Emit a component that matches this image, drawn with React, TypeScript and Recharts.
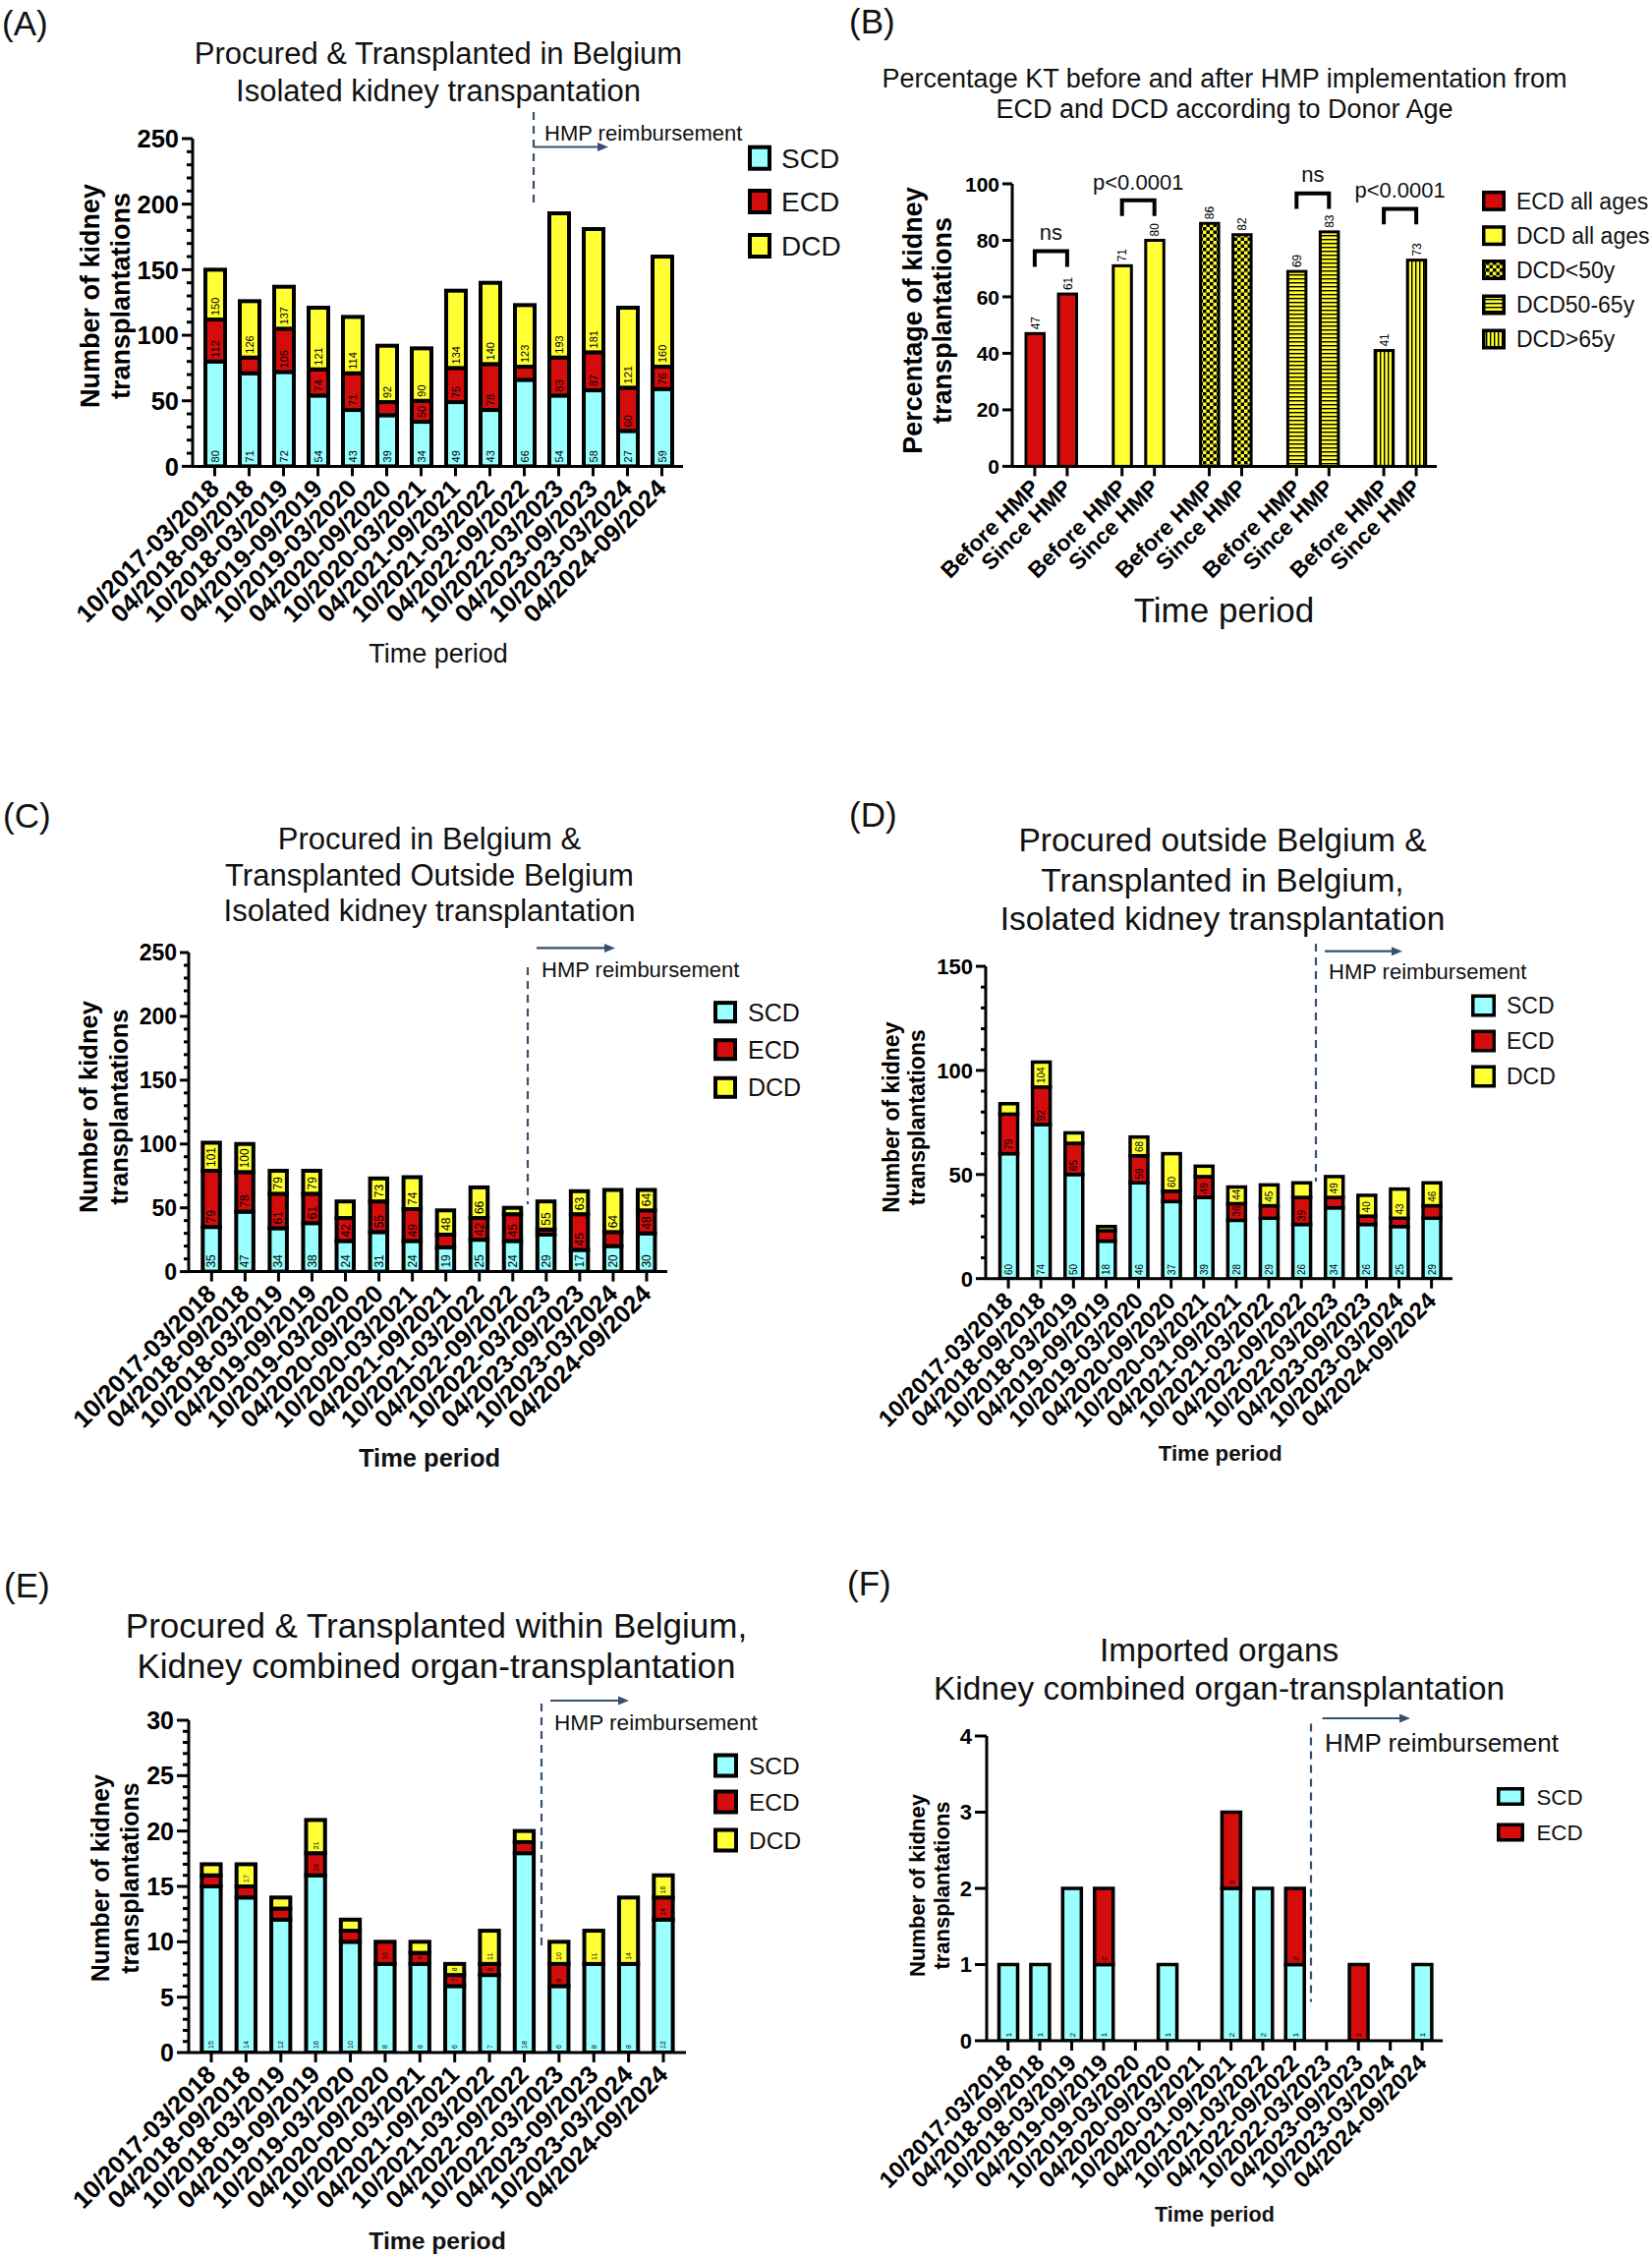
import React from "react";
import { Bar, BarChart, XAxis, YAxis } from "recharts";

const FONT = "'Liberation Sans', Arial, Helvetica, sans-serif";
const CYAN = "#99FFFF";
const RED = "#D50C0C";
const YELLOW = "#FFFF33";
const NAVY = "#36516F";

const PERIODS = [
  "10/2017-03/2018", "04/2018-09/2018", "10/2018-03/2019", "04/2019-09/2019",
  "10/2019-03/2020", "04/2020-09/2020", "10/2020-03/2021", "04/2021-09/2021",
  "10/2021-03/2022", "04/2022-09/2022", "10/2022-03/2023", "04/2023-09/2023",
  "10/2023-03/2024", "04/2024-09/2024",
];

// (A) procured & transplanted in Belgium, isolated KT
const A_SCD = [80, 71, 72, 54, 43, 39, 34, 49, 43, 66, 54, 58, 27, 59];
const A_ECD = [32, 12, 33, 20, 28, 10, 16, 26, 35, 10, 29, 29, 33, 17];
const A_DCD = [38, 43, 32, 47, 43, 43, 40, 59, 62, 47, 110, 94, 61, 84];
const A_YTICKS = [0, 50, 100, 150, 200, 250];

// (B) percentage KT before / since HMP
const B_GROUPS = ["ECD all ages", "DCD all ages", "DCD<50y", "DCD50-65y", "DCD>65y"];
const B_BEFORE = [47, 71, 86, 69, 41];
const B_SINCE = [61, 80, 82, 83, 73];
const B_SIG = ["ns", "p<0.0001", "", "ns", "p<0.0001"];
const B_BRACKET = [76, 94, 0, 96.5, 91];
const B_TICK_LABELS = ["Before HMP", "Since HMP"];
const B_YTICKS = [0, 20, 40, 60, 80, 100];

// (C) procured in Belgium, transplanted outside
const C_SCD = [35, 47, 34, 38, 24, 31, 24, 19, 25, 24, 29, 17, 20, 30];
const C_ECD = [44, 31, 27, 23, 18, 24, 25, 10, 17, 21, 4, 28, 11, 18];
const C_DCD = [22, 22, 18, 18, 13, 18, 25, 19, 24, 5, 22, 18, 33, 16];
const C_YTICKS = [0, 50, 100, 150, 200, 250];

// (D) procured outside, transplanted in Belgium
const D_SCD = [60, 74, 50, 18, 46, 37, 39, 28, 29, 26, 34, 26, 25, 29];
const D_ECD = [19, 18, 15, 5, 13, 5, 10, 8, 6, 13, 5, 4, 4, 6];
const D_DCD = [5, 12, 5, 2, 9, 18, 5, 8, 10, 7, 10, 10, 14, 11];
const D_YTICKS = [0, 50, 100, 150];

// (E) combined organ KT within Belgium
const E_SCD = [15, 14, 12, 16, 10, 8, 8, 6, 7, 18, 6, 8, 8, 12];
const E_ECD = [1, 1, 1, 2, 1, 2, 1, 1, 1, 1, 2, 0, 0, 2];
const E_DCD = [1, 2, 1, 3, 1, 0, 1, 1, 3, 1, 2, 3, 6, 2];
const E_YTICKS = [0, 5, 10, 15, 20, 25, 30];

// (F) imported organs, combined KT
const F_SCD = [1, 1, 2, 1, 0, 1, 0, 2, 2, 1, 0, 0, 0, 1];
const F_ECD = [0, 0, 0, 1, 0, 0, 0, 1, 0, 1, 0, 1, 0, 0];
const F_YTICKS = [0, 1, 2, 3, 4];

type Series = { key: string; name: string; color: string; values: number[] };
type Geo = { l: number; r: number; t: number; b: number; padL: number; padR: number };

const MT = 40;
const XH = 240;
const YW = 170;
const MR = 12;

function chartBox(g: Geo) {
  return { left: g.l - YW, top: g.t - MT, width: g.r - g.l + YW + MR, height: g.b - g.t + MT + XH };
}

function yTick(majors: number[], fs: number, majorLen: number, minorLen: number) {
  return (p: any) => {
    const v = p.payload.value;
    const isMajor = majors.includes(v);
    const len = isMajor ? majorLen : minorLen;
    return (
      <g>
        <line x1={YW - len} x2={YW} y1={p.y} y2={p.y} stroke="#000" strokeWidth={3} />
        {isMajor && (
          <text x={YW - len - 3} y={p.y + 0.36 * fs} textAnchor="end" fontSize={fs} fontWeight="bold" fontFamily={FONT} fill="#000">
            {v}
          </text>
        )}
      </g>
    );
  };
}

function rotLabel(tx: number, ty: number, fs: number, text: string, key?: string) {
  return (
    <text key={key} x={tx} y={ty} transform={`rotate(-45 ${tx} ${ty})`} textAnchor="end" fontSize={fs} fontWeight="bold" fontFamily={FONT} fill="#000">
      {text}
    </text>
  );
}

function xTick(axisY: number, fs: number) {
  return (p: any) => (
    <g>
      <line x1={p.x} x2={p.x} y1={axisY} y2={axisY + 10} stroke="#000" strokeWidth={3} />
      {rotLabel(p.x + 6, axisY + 24, fs, p.payload.value)}
    </g>
  );
}

function segShape(series: Series[], k: number, sw: number, fs: number, pad: number) {
  return (p: any) => {
    const { x, y, width, height, payload } = p;
    if (!height || height <= 0) return <g />;
    const cum = series.slice(0, k + 1).reduce((a, s) => a + payload[s.key], 0);
    const txt = String(cum);
    const show = height >= txt.length * 0.556 * fs + pad;
    const cx = x + width / 2 + 0.36 * fs;
    const by = y + height - sw / 2 - 2;
    return (
      <g>
        <rect x={x} y={y} width={width} height={height} fill={series[k].color} stroke="#000" strokeWidth={sw} />
        {show && (
          <text x={cx} y={by} transform={`rotate(-90 ${cx} ${by})`} fontSize={fs} fontFamily={FONT} fill="#000">
            {txt}
          </text>
        )}
      </g>
    );
  };
}

type StackCfg = {
  geo: Geo; series: Series[]; yMax: number; majors: number[]; minorStep: number;
  barSize: number; sw: number; labelFs: number; labelPad: number;
  yFs: number; xFs: number; majorLen: number; minorLen: number;
};

function StackPanel({ cfg }: { cfg: StackCfg }) {
  const g = cfg.geo;
  const box = chartBox(g);
  const axisY = MT + (g.b - g.t);
  const data = PERIODS.map((period, i) => {
    const row: any = { period };
    cfg.series.forEach((s) => (row[s.key] = s.values[i]));
    return row;
  });
  const ticks: number[] = [];
  for (let v = 0; v <= cfg.yMax + 1e-9; v += cfg.minorStep) ticks.push(Math.round(v * 100) / 100);
  return (
    <div style={{ position: "absolute", left: box.left, top: box.top, zIndex: 1 }}>
      <BarChart width={box.width} height={box.height} data={data} margin={{ top: MT, right: MR, bottom: 0, left: 0 }}>
        <XAxis dataKey="period" height={XH} interval={0} tickLine={false}
          axisLine={{ stroke: "#000", strokeWidth: 3 }} padding={{ left: g.padL, right: g.padR }}
          tick={xTick(axisY, cfg.xFs)} />
        <YAxis width={YW} domain={[0, cfg.yMax]} ticks={ticks} interval={0} tickLine={false} allowDataOverflow
          axisLine={{ stroke: "#000", strokeWidth: 3 }} tick={yTick(cfg.majors, cfg.yFs, cfg.majorLen, cfg.minorLen)} />
        {cfg.series.map((s, k) => (
          <Bar key={s.key} dataKey={s.key} name={s.name} stackId="a" barSize={cfg.barSize} isAnimationActive={false}
            shape={segShape(cfg.series, k, cfg.sw, cfg.labelFs, cfg.labelPad)} />
        ))}
      </BarChart>
    </div>
  );
}

const SER = (scd: number[], ecd: number[], dcd?: number[]): Series[] => {
  const out: Series[] = [
    { key: "scd", name: "SCD", color: CYAN, values: scd },
    { key: "ecd", name: "ECD", color: RED, values: ecd },
  ];
  if (dcd) out.push({ key: "dcd", name: "DCD", color: YELLOW, values: dcd });
  return out;
};

const CFG_A: StackCfg = {
  geo: { l: 196, r: 695, t: 140.6, b: 474, padL: 5, padR: 4 }, series: SER(A_SCD, A_ECD, A_DCD),
  yMax: 250, majors: A_YTICKS, minorStep: 10, barSize: 20, sw: 4, labelFs: 11, labelPad: 6,
  yFs: 25.5, xFs: 25.5, majorLen: 11, minorLen: 6,
};
const CFG_C: StackCfg = {
  geo: { l: 192, r: 679, t: 969, b: 1293.6, padL: 6.3, padR: 4 }, series: SER(C_SCD, C_ECD, C_DCD),
  yMax: 250, majors: C_YTICKS, minorStep: 10, barSize: 17.5, sw: 4, labelFs: 12, labelPad: 5,
  yFs: 23, xFs: 25.5, majorLen: 9, minorLen: 5,
};
const CFG_D: StackCfg = {
  geo: { l: 1003, r: 1478, t: 983.3, b: 1301, padL: 6.5, padR: 4.8 }, series: SER(D_SCD, D_ECD, D_DCD),
  yMax: 150, majors: D_YTICKS, minorStep: 10, barSize: 18, sw: 3.5, labelFs: 10, labelPad: 4,
  yFs: 22, xFs: 24, majorLen: 10, minorLen: 5,
};
const CFG_E: StackCfg = {
  geo: { l: 192, r: 698, t: 1750, b: 2088, padL: 5.3, padR: 5.3 }, series: SER(E_SCD, E_ECD, E_DCD),
  yMax: 30, majors: E_YTICKS, minorStep: 1, barSize: 19.3, sw: 4, labelFs: 7, labelPad: 4,
  yFs: 25, xFs: 25.5, majorLen: 12, minorLen: 6,
};
const CFG_F: StackCfg = {
  geo: { l: 1003.5, r: 1467.6, t: 1766.3, b: 2076.3, padL: 5.5, padR: 4.8 }, series: SER(F_SCD, F_ECD),
  yMax: 4, majors: F_YTICKS, minorStep: 1, barSize: 19, sw: 3.5, labelFs: 8, labelPad: 3,
  yFs: 22, xFs: 23.8, majorLen: 12, minorLen: 12,
};

// panel B
const B_GEO: Geo = { l: 1030, r: 1462, t: 186.6, b: 474, padL: -5, padR: -7 };
const B_BAR = 18.5;
const B_GAP = 14.5;
const B_FILLS = [RED, YELLOW, "url(#pChk)", "url(#pHst)", "url(#pVst)"];

function PanelB() {
  const g = B_GEO;
  const box = chartBox(g);
  const axisY = MT + (g.b - g.t);
  const off = (B_BAR + B_GAP) / 2;
  const data = B_GROUPS.map((group, i) => ({ group, before: B_BEFORE[i], since: B_SINCE[i] }));
  const shape = (key: string) => (p: any) => {
    const { x, y, width, height, index, payload } = p;
    const cx = x + width / 2 + 0.36 * 12;
    const ty = y - 4;
    return (
      <g>
        <rect x={x} y={y} width={width} height={height} fill={B_FILLS[index]} stroke="#000" strokeWidth={3} />
        <text x={cx} y={ty} transform={`rotate(-90 ${cx} ${ty})`} fontSize={12} fontFamily={FONT} fill="#000">
          {payload[key]}
        </text>
      </g>
    );
  };
  const tick = (p: any) => (
    <g>
      {[-off, off].map((o, j) => (
        <g key={j}>
          <line x1={p.x + o} x2={p.x + o} y1={axisY} y2={axisY + 10} stroke="#000" strokeWidth={3} />
          {rotLabel(p.x + o + 6, axisY + 23, 23, B_TICK_LABELS[j])}
        </g>
      ))}
    </g>
  );
  return (
    <div style={{ position: "absolute", left: box.left, top: box.top, zIndex: 1 }}>
      <BarChart width={box.width} height={box.height} data={data} barGap={B_GAP} margin={{ top: MT, right: MR, bottom: 0, left: 0 }}>
        <XAxis dataKey="group" height={XH} interval={0} tickLine={false}
          axisLine={{ stroke: "#000", strokeWidth: 3 }} padding={{ left: g.padL, right: g.padR }} tick={tick} />
        <YAxis width={YW} domain={[0, 100]} ticks={B_YTICKS} interval={0} tickLine={false} allowDataOverflow
          axisLine={{ stroke: "#000", strokeWidth: 3 }} tick={yTick(B_YTICKS, 21, 10, 10)} />
        <Bar dataKey="before" barSize={B_BAR} isAnimationActive={false} shape={shape("before")} />
        <Bar dataKey="since" barSize={B_BAR} isAnimationActive={false} shape={shape("since")} />
      </BarChart>
    </div>
  );
}

function Brackets() {
  const g = B_GEO;
  const band = (g.r - g.l - g.padL - g.padR) / B_GROUPS.length;
  const off = (B_BAR + B_GAP) / 2;
  const yPix = (v: number) => g.t + (1 - v / 100) * (g.b - g.t);
  return (
    <g>
      {B_SIG.map((sig, i) => {
        if (!sig) return null;
        const c = g.l + g.padL + band * (i + 0.5);
        const top = yPix(B_BRACKET[i]);
        const leg = yPix(B_BRACKET[i] - 5.5);
        const ty = yPix(B_BRACKET[i] + 6.7);
        return (
          <g key={i}>
            <polyline points={`${c - off},${leg} ${c - off},${top} ${c + off},${top} ${c + off},${leg}`} fill="none" stroke="#000" strokeWidth={4} />
            <text x={c} y={ty + 0.36 * 22} textAnchor="middle" fontSize={22} fontFamily={FONT} fill="#111">{sig}</text>
          </g>
        );
      })}
    </g>
  );
}

function Lines({ cx, cys, f, lines, anchor = "middle", bold }: any) {
  return (
    <g>
      {lines.map((s: string, i: number) => (
        <text key={i} x={cx} y={cys[i] + 0.36 * f} textAnchor={anchor} fontSize={f} fontWeight={bold ? "bold" : "normal"} fontFamily={FONT} fill="#111">
          {s}
        </text>
      ))}
    </g>
  );
}

function YTitle({ xs, cy, f, lines }: any) {
  return (
    <g>
      {lines.map((s: string, i: number) => {
        const bx = xs[i] + 0.36 * f;
        return (
          <text key={i} x={bx} y={cy} transform={`rotate(-90 ${bx} ${cy})`} textAnchor="middle" fontSize={f} fontWeight="bold" fontFamily={FONT} fill="#000">
            {s}
          </text>
        );
      })}
    </g>
  );
}

function Hmp({ x, y1, y2, ay, ax1, ax2, tx, ty, f }: any) {
  return (
    <g>
      <line x1={x} x2={x} y1={y1} y2={y2} stroke={NAVY} strokeWidth={2.2} strokeDasharray="8 6" />
      <line x1={ax1} x2={ax2 - 8} y1={ay} y2={ay} stroke={NAVY} strokeWidth={2.2} />
      <polygon points={`${ax2},${ay} ${ax2 - 11},${ay - 4.5} ${ax2 - 11},${ay + 4.5}`} fill={NAVY} />
      <text x={tx} y={ty + 0.36 * f} fontSize={f} fontFamily={FONT} fill="#111">HMP reimbursement</text>
    </g>
  );
}

function Legend({ x, w, h, cys, tx, f, sw, items }: any) {
  return (
    <g>
      {items.map((it: any, i: number) => (
        <g key={it.name}>
          <rect x={x + sw / 2} y={cys[i] - h / 2 + sw / 2} width={w - sw} height={h - sw} fill={it.fill} stroke="#000" strokeWidth={sw} />
          <text x={tx} y={cys[i] + 0.36 * f} fontSize={f} fontFamily={FONT} fill="#111">{it.name}</text>
        </g>
      ))}
    </g>
  );
}

const legendItems = (s: Series[]) => s.map((x) => ({ name: x.name, fill: x.color }));
const Y_TITLE = ["Number of kidney", "transplantations"];

function Overlay() {
  return (
    <svg width={1681} height={2296} style={{ position: "absolute", left: 0, top: 0, zIndex: 2, pointerEvents: "none" }}>
      <defs>
        <pattern id="pChk" width="7" height="7" patternUnits="userSpaceOnUse">
          <rect width="7" height="7" fill={YELLOW} />
          <rect width="3.5" height="3.5" fill="#000" />
          <rect x="3.5" y="3.5" width="3.5" height="3.5" fill="#000" />
        </pattern>
        <pattern id="pHst" width="4" height="4" patternUnits="userSpaceOnUse">
          <rect width="4" height="4" fill={YELLOW} />
          <rect width="4" height="1.4" fill="#000" />
        </pattern>
        <pattern id="pVst" width="4" height="4" patternUnits="userSpaceOnUse">
          <rect width="4" height="4" fill={YELLOW} />
          <rect width="1.4" height="4" fill="#000" />
        </pattern>
      </defs>

      {/* A */}
      <Lines cx={2} cys={[23.5]} f={35} anchor="start" lines={["(A)"]} />
      <Lines cx={446} cys={[53.6, 91.5]} f={31} lines={["Procured & Transplanted in Belgium", "Isolated kidney transpantation"]} />
      <Hmp x={543} y1={114} y2={206} ay={149.5} ax1={543} ax2={619} tx={554} ty={135} f={22} />
      <Legend x={761} w={24} h={26} cys={[160.7, 205, 250]} tx={795} f={28} sw={4} items={legendItems(CFG_A.series)} />
      <YTitle xs={[91, 122]} cy={301} f={27} lines={Y_TITLE} />
      <Lines cx={446} cys={[664]} f={27} lines={["Time period"]} />

      {/* B */}
      <Lines cx={864} cys={[21]} f={35} anchor="start" lines={["(B)"]} />
      <Lines cx={1246} cys={[79.5, 110.7]} f={27} lines={["Percentage KT before and after HMP implementation from", "ECD and DCD according to Donor Age"]} />
      <Brackets />
      <Legend x={1508} w={24} h={21} cys={[204.4, 239.7, 274.5, 310, 345]} tx={1543} f={23} sw={3.5}
        items={B_GROUPS.map((name, i) => ({ name, fill: B_FILLS[i] }))} />
      <YTitle xs={[928, 958]} cy={326} f={27} lines={["Percentage of kidney", "transplantations"]} />
      <Lines cx={1245.5} cys={[620.5]} f={35} lines={["Time period"]} />

      {/* C */}
      <Lines cx={3} cys={[829]} f={35} anchor="start" lines={["(C)"]} />
      <Lines cx={437} cys={[852.8, 889.5, 926.3]} f={31} lines={["Procured in Belgium &", "Transplanted Outside Belgium", "Isolated kidney transplantation"]} />
      <Hmp x={537} y1={984} y2={1225} ay={964.4} ax1={546} ax2={626} tx={551} ty={986} f={22} />
      <Legend x={726} w={24} h={23} cys={[1029.6, 1067.7, 1106.3]} tx={761} f={25} sw={4} items={legendItems(CFG_C.series)} />
      <YTitle xs={[90, 120.5]} cy={1126} f={25.6} lines={Y_TITLE} />
      <Lines cx={437} cys={[1483]} f={25.5} bold lines={["Time period"]} />

      {/* D */}
      <Lines cx={864} cys={[828]} f={35} anchor="start" lines={["(D)"]} />
      <Lines cx={1244} cys={[853.6, 894.6, 934]} f={33.5} lines={["Procured outside Belgium &", "Transplanted in Belgium,", "Isolated kidney transplantation"]} />
      <Hmp x={1339} y1={960} y2={1202} ay={967.7} ax1={1348} ax2={1427} tx={1352} ty={988} f={22} />
      <Legend x={1497} w={25} h={23} cys={[1023, 1059, 1095]} tx={1533} f={23} sw={3.5} items={legendItems(CFG_D.series)} />
      <YTitle xs={[906.7, 933]} cy={1136.7} f={23} lines={Y_TITLE} />
      <Lines cx={1241.7} cys={[1478]} f={22.3} bold lines={["Time period"]} />

      {/* E */}
      <Lines cx={4} cys={[1612]} f={35} anchor="start" lines={["(E)"]} />
      <Lines cx={444} cys={[1653, 1694]} f={35} lines={["Procured & Transplanted within Belgium,", "Kidney combined organ-transplantation"]} />
      <Hmp x={551} y1={1733} y2={1982} ay={1730} ax1={560} ax2={640} tx={564} ty={1752} f={22.6} />
      <Legend x={726} w={25} h={25} cys={[1796, 1833, 1872]} tx={762} f={24.5} sw={4} items={legendItems(CFG_E.series)} />
      <YTitle xs={[101.7, 131.7]} cy={1910.6} f={25} lines={Y_TITLE} />
      <Lines cx={445} cys={[2279]} f={24.7} bold lines={["Time period"]} />

      {/* F */}
      <Lines cx={862} cys={[1610]} f={35} anchor="start" lines={["(F)"]} />
      <Lines cx={1240.6} cys={[1678, 1717]} f={33.4} lines={["Imported organs", "Kidney combined organ-transplantation"]} />
      <Hmp x={1334} y1={1753.5} y2={2036.6} ay={1748} ax1={1345.6} ax2={1435} tx={1348} ty={1772.7} f={26} />
      <Legend x={1523} w={28} h={19} cys={[1827.5, 1864]} tx={1563.5} f={22.3} sw={3.5} items={legendItems(CFG_F.series)} />
      <YTitle xs={[933, 958]} cy={1918} f={22} lines={Y_TITLE} />
      <Lines cx={1236} cys={[2252.6]} f={21.6} bold lines={["Time period"]} />
    </svg>
  );
}

export default function App() {
  return (
    <div style={{ position: "absolute", left: 0, top: 0, width: 1681, height: 2296, background: "#fff", overflow: "hidden", fontFamily: FONT }}>
      <StackPanel cfg={CFG_A} />
      <PanelB />
      <StackPanel cfg={CFG_C} />
      <StackPanel cfg={CFG_D} />
      <StackPanel cfg={CFG_E} />
      <StackPanel cfg={CFG_F} />
      <Overlay />
    </div>
  );
}
